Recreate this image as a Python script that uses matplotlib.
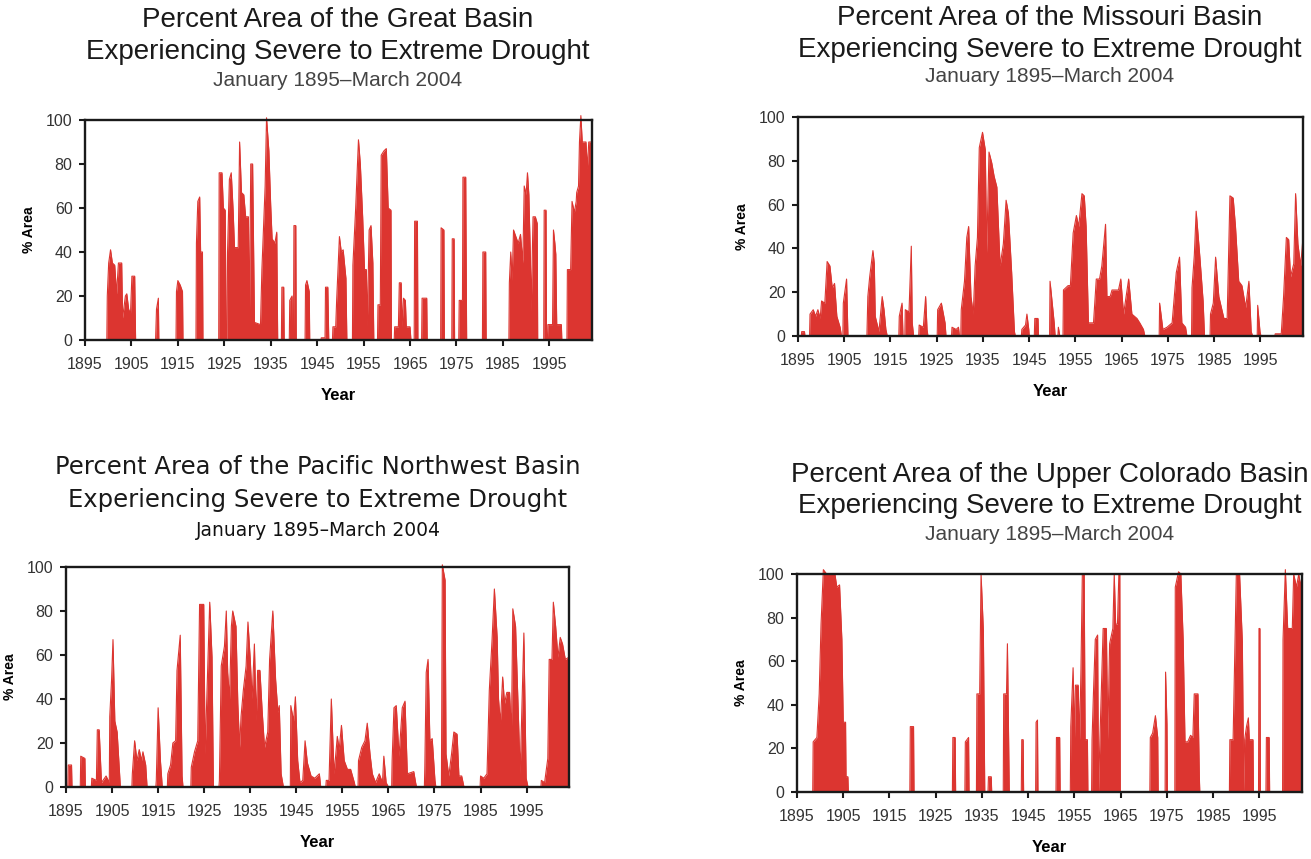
import matplotlib
matplotlib.use("Agg")
import matplotlib.pyplot as plt
import numpy as np

# (year, % area); zero points close each episode
GREAT_BASIN = [
    (1895.0, 0), (1899.7, 0), (1899.8, 20), (1900.1, 35), (1900.5, 41), (1900.9, 35), (1901.4, 34),
    (1901.8, 21), (1902.2, 35), (1902.9, 35), (1903.1, 10), (1903.7, 20), (1904.0, 21), (1904.4, 14),
    (1904.8, 12), (1905.1, 29), (1905.7, 29), (1905.9, 0),
    (1910.2, 0), (1910.4, 14), (1910.8, 19), (1910.9, 0),
    (1914.6, 0), (1914.7, 22), (1915.0, 27), (1915.5, 25), (1916.0, 22), (1916.1, 0),
    (1918.9, 0), (1919.0, 44), (1919.3, 63), (1919.7, 65), (1919.9, 40), (1920.3, 40), (1920.4, 0),
    (1923.8, 0), (1923.9, 76), (1924.5, 76), (1924.8, 60), (1925.2, 59), (1925.4, 0),
    (1925.6, 0), (1925.7, 40), (1926.1, 73), (1926.5, 76), (1926.9, 59), (1927.2, 42), (1928.0, 42),
    (1928.3, 90), (1928.7, 67), (1929.2, 66), (1929.6, 56), (1930.2, 56), (1930.4, 6), (1930.7, 80),
    (1931.1, 80), (1931.5, 8), (1932.8, 7), (1933.1, 32), (1933.8, 70), (1934.1, 101), (1934.6, 86),
    (1935.0, 61), (1935.3, 46), (1935.9, 44), (1936.3, 49), (1936.5, 0),
    (1937.3, 0), (1937.4, 24), (1937.8, 24), (1937.9, 0),
    (1939.0, 0), (1939.1, 18), (1939.6, 20), (1939.7, 0), (1939.9, 0), (1940.0, 52), (1940.4, 52), (1940.5, 0),
    (1942.4, 0), (1942.5, 25), (1942.8, 27), (1943.3, 22), (1943.4, 0),
    (1945.8, 0), (1945.9, 1), (1946.7, 1), (1946.8, 24), (1947.3, 24), (1947.5, 0), (1948.3, 0),
    (1948.4, 6), (1949.0, 6), (1949.2, 18), (1949.8, 47), (1950.2, 40), (1950.6, 41), (1951.2, 28), (1951.4, 0),
    (1952.6, 0), (1952.7, 34), (1953.3, 60), (1953.9, 91), (1954.3, 80), (1954.8, 56), (1955.2, 32),
    (1955.6, 32), (1955.8, 6), (1956.2, 50), (1956.6, 52), (1957.0, 35), (1957.2, 0),
    (1958.0, 0), (1958.1, 16), (1958.6, 16), (1958.8, 84), (1959.4, 86), (1959.9, 87), (1960.3, 60),
    (1960.9, 59), (1961.0, 0),
    (1961.6, 0), (1961.7, 6), (1962.5, 6), (1962.7, 26), (1963.1, 26), (1963.3, 6), (1963.6, 19),
    (1964.0, 18), (1964.2, 6), (1965.0, 6), (1965.2, 0),
    (1965.9, 0), (1966.0, 54), (1966.6, 54), (1966.7, 0),
    (1967.5, 0), (1967.6, 19), (1968.6, 19), (1968.7, 0),
    (1971.6, 0), (1971.7, 51), (1972.3, 50), (1972.4, 0),
    (1974.0, 0), (1974.1, 46), (1974.5, 46), (1974.6, 0),
    (1975.5, 0), (1975.6, 18), (1976.3, 18), (1976.4, 74), (1977.0, 74), (1977.2, 0),
    (1980.6, 0), (1980.7, 40), (1981.3, 40), (1981.4, 0),
    (1986.3, 0), (1986.4, 26), (1986.7, 40), (1987.0, 27), (1987.3, 50), (1987.8, 47), (1988.3, 44),
    (1988.8, 48), (1989.3, 35), (1989.6, 70), (1990.0, 66), (1990.3, 76), (1990.6, 66), (1990.9, 40),
    (1991.1, 13), (1991.5, 56), (1992.0, 56), (1992.4, 53), (1992.5, 0),
    (1993.8, 0), (1993.9, 59), (1994.3, 59), (1994.4, 0),
    (1994.6, 0), (1994.7, 7), (1995.7, 7), (1995.9, 50), (1996.2, 44), (1996.4, 39), (1996.6, 7),
    (1997.6, 7), (1997.7, 0),
    (1998.8, 0), (1998.9, 32), (1999.6, 32), (1999.9, 63), (2000.4, 58), (2000.8, 63), (2000.9, 67),
    (2001.3, 70), (2001.5, 90), (2001.8, 102), (2002.1, 90), (2002.9, 90), (2003.2, 78), (2003.5, 90),
    (2004.2, 90),
]

MISSOURI = [
    (1895.0, 0), (1895.7, 0), (1895.8, 2), (1896.4, 2), (1896.5, 0),
    (1897.5, 0), (1897.6, 10), (1898.3, 12), (1898.8, 9), (1899.3, 12), (1899.8, 8), (1900.1, 16),
    (1900.8, 15), (1901.3, 34), (1901.9, 32), (1902.4, 22), (1902.9, 24), (1903.4, 9), (1904.1, 4), (1904.4, 0),
    (1904.7, 0), (1904.8, 15), (1905.5, 26), (1905.8, 0),
    (1909.9, 0), (1910.1, 18), (1910.5, 27), (1911.2, 39), (1911.5, 33), (1911.7, 9), (1912.5, 2),
    (1913.2, 18), (1913.6, 12), (1914.0, 3), (1914.3, 0),
    (1916.8, 0), (1916.9, 9), (1917.5, 15), (1917.7, 0),
    (1918.1, 0), (1918.2, 12), (1919.0, 11), (1919.5, 41), (1919.7, 6), (1920.0, 0),
    (1921.1, 0), (1921.2, 5), (1922.1, 4), (1922.6, 18), (1922.9, 3), (1923.1, 0),
    (1925.1, 0), (1925.2, 12), (1926.0, 15), (1926.8, 6), (1927.0, 0),
    (1928.2, 0), (1928.3, 4), (1929.2, 3), (1929.7, 4), (1929.9, 0),
    (1930.2, 0), (1930.3, 12), (1931.0, 25), (1931.5, 45), (1931.9, 50), (1932.4, 18), (1932.9, 10),
    (1933.3, 32), (1933.8, 45), (1934.2, 86), (1934.9, 93), (1935.5, 85), (1935.8, 38), (1936.3, 84),
    (1936.9, 79), (1937.4, 73), (1938.0, 68), (1938.7, 32), (1939.4, 42), (1940.0, 62), (1940.5, 56),
    (1941.2, 29), (1941.8, 2), (1942.0, 0),
    (1943.3, 0), (1943.4, 3), (1944.2, 5), (1944.5, 10), (1944.9, 3), (1945.0, 0),
    (1946.1, 0), (1946.2, 8), (1946.9, 8), (1947.0, 0),
    (1949.4, 0), (1949.5, 25), (1950.4, 6), (1950.6, 0), (1951.2, 0), (1951.3, 4), (1951.6, 0),
    (1952.3, 0), (1952.4, 21), (1953.4, 23), (1953.9, 23), (1954.5, 47), (1955.2, 55), (1955.7, 50),
    (1956.4, 65), (1956.9, 64), (1957.3, 50), (1957.8, 6), (1958.2, 6), (1958.9, 6), (1959.5, 26),
    (1960.2, 26), (1960.7, 32), (1961.5, 51), (1961.8, 18), (1962.5, 18), (1962.9, 21), (1964.3, 21),
    (1964.8, 26), (1965.4, 10), (1966.5, 26), (1967.2, 10), (1968.3, 8), (1968.9, 6), (1969.7, 3), (1970.0, 0),
    (1973.1, 0), (1973.2, 15), (1973.9, 3), (1974.8, 4), (1975.9, 6), (1976.8, 29), (1977.5, 36),
    (1978.0, 6), (1978.8, 4), (1979.1, 0),
    (1980.1, 0), (1980.2, 22), (1980.7, 37), (1981.1, 57), (1981.9, 36), (1982.6, 16), (1982.9, 0),
    (1984.1, 0), (1984.2, 10), (1984.8, 15), (1985.3, 36), (1986.0, 18), (1987.1, 8), (1987.8, 8),
    (1988.4, 64), (1989.1, 63), (1989.6, 50), (1990.3, 25), (1991.0, 23), (1991.8, 13), (1992.5, 25),
    (1993.0, 2), (1993.3, 0),
    (1994.3, 0), (1994.4, 14), (1994.9, 2), (1995.1, 0),
    (1998.1, 0), (1998.2, 1), (1999.5, 1), (2000.0, 18), (2000.6, 45), (2001.1, 44), (2001.5, 27),
    (2002.2, 33), (2002.6, 65), (2003.1, 42), (2003.7, 32), (2004.2, 45),
]

PACIFIC_NW = [
    (1895.0, 0), (1895.4, 0), (1895.5, 10), (1896.2, 10), (1896.3, 0),
    (1898.1, 0), (1898.2, 14), (1899.1, 13), (1899.2, 0),
    (1900.5, 0), (1900.6, 4), (1901.6, 3), (1901.8, 26), (1902.2, 26), (1902.7, 2), (1903.7, 5),
    (1904.4, 2), (1904.5, 32), (1904.9, 49), (1905.2, 67), (1905.6, 30), (1906.1, 25), (1906.5, 11), (1906.8, 0),
    (1909.3, 0), (1909.4, 6), (1909.9, 21), (1910.4, 12), (1910.9, 17), (1911.4, 12), (1911.7, 16),
    (1912.3, 10), (1912.6, 0),
    (1914.5, 0), (1914.6, 3), (1915.0, 36), (1915.5, 12), (1915.9, 0),
    (1917.0, 0), (1917.1, 6), (1917.7, 10), (1918.2, 20), (1918.8, 21), (1919.1, 53), (1919.8, 69),
    (1920.2, 5), (1920.4, 0),
    (1922.1, 0), (1922.2, 9), (1922.9, 16), (1923.6, 21), (1924.0, 83), (1924.9, 83), (1925.2, 15),
    (1925.6, 43), (1926.2, 84), (1926.7, 59), (1927.0, 0),
    (1928.2, 0), (1928.3, 3), (1928.7, 55), (1929.4, 64), (1929.8, 80), (1930.1, 52), (1930.5, 40),
    (1930.9, 73), (1931.2, 80), (1931.9, 73), (1932.3, 38), (1932.7, 18), (1933.0, 32), (1933.5, 44),
    (1934.1, 55), (1934.5, 75), (1935.0, 58), (1935.4, 40), (1935.9, 65), (1936.3, 30), (1936.6, 53),
    (1937.1, 53), (1937.6, 34), (1938.1, 18), (1938.8, 25), (1939.2, 58), (1939.9, 80), (1940.5, 49),
    (1941.0, 34), (1941.3, 37), (1941.7, 6), (1942.2, 0),
    (1943.7, 0), (1943.8, 37), (1944.4, 30), (1944.8, 41), (1945.3, 12), (1945.8, 2), (1946.4, 3),
    (1946.9, 21), (1947.4, 11), (1948.2, 5), (1949.0, 4), (1950.0, 6), (1950.3, 0),
    (1951.4, 0), (1951.5, 3), (1952.1, 3), (1952.6, 40), (1953.2, 6), (1953.9, 23), (1954.3, 17),
    (1954.8, 28), (1955.4, 12), (1956.1, 8), (1956.8, 8), (1957.6, 2), (1957.8, 0),
    (1958.4, 0), (1958.5, 12), (1959.2, 18), (1959.9, 21), (1960.4, 29), (1961.0, 15), (1961.5, 6),
    (1962.2, 2), (1963.0, 6), (1963.7, 2), (1964.0, 14), (1964.5, 2), (1965.0, 0),
    (1965.7, 0), (1965.8, 12), (1966.2, 36), (1966.7, 37), (1967.3, 14), (1968.0, 36), (1968.6, 39),
    (1969.1, 6), (1970.5, 7), (1970.9, 2), (1971.1, 0),
    (1972.8, 0), (1972.9, 9), (1973.2, 52), (1973.6, 58), (1974.0, 21), (1974.5, 22), (1975.1, 3), (1975.3, 0),
    (1976.5, 0), (1976.7, 101), (1977.3, 94), (1977.5, 15), (1978.1, 5), (1978.7, 15), (1979.2, 25),
    (1979.9, 24), (1980.3, 5), (1980.9, 5), (1981.4, 0),
    (1984.9, 0), (1985.0, 5), (1985.7, 4), (1986.4, 6), (1986.9, 44), (1987.5, 67), (1988.0, 90),
    (1988.6, 68), (1988.9, 40), (1989.3, 29), (1989.8, 50), (1990.2, 38), (1990.7, 43), (1991.3, 43),
    (1991.7, 24), (1992.0, 81), (1992.6, 73), (1993.1, 40), (1993.6, 6), (1994.4, 70), (1994.9, 4), (1995.3, 0),
    (1998.1, 0), (1998.2, 3), (1998.9, 2), (1999.6, 13), (1999.9, 58), (2000.5, 58), (2000.8, 84),
    (2001.3, 73), (2001.8, 59), (2002.3, 68), (2002.8, 65), (2003.4, 58), (2004.2, 59),
]

UPPER_COLORADO = [
    (1895.0, 0), (1898.4, 0), (1898.5, 23), (1899.3, 25), (1899.8, 45), (1900.2, 77), (1900.7, 102),
    (1901.4, 100), (1903.2, 100), (1903.6, 94), (1904.2, 95), (1904.7, 70), (1905.0, 32), (1905.5, 32),
    (1905.6, 7), (1906.0, 7), (1906.1, 0),
    (1919.4, 0), (1919.5, 30), (1920.2, 30), (1920.3, 0),
    (1928.6, 0), (1928.7, 25), (1929.2, 25), (1929.3, 0),
    (1931.3, 0), (1931.4, 23), (1932.1, 25), (1932.2, 0),
    (1933.8, 0), (1933.9, 45), (1934.5, 45), (1934.8, 100), (1935.3, 74), (1935.6, 0),
    (1936.3, 0), (1936.4, 7), (1937.0, 7), (1937.1, 0),
    (1939.6, 0), (1939.7, 45), (1940.3, 45), (1940.5, 68), (1940.9, 0),
    (1943.5, 0), (1943.6, 24), (1943.9, 24), (1944.0, 0),
    (1946.6, 0), (1946.7, 32), (1947.0, 33), (1947.1, 0),
    (1951.0, 0), (1951.1, 25), (1951.8, 25), (1951.9, 0),
    (1954.1, 0), (1954.2, 30), (1954.7, 57), (1955.0, 24), (1955.2, 49), (1955.8, 49), (1956.1, 24),
    (1956.4, 56), (1956.7, 100), (1957.1, 100), (1957.3, 24), (1957.8, 24), (1957.9, 0),
    (1958.7, 0), (1958.8, 24), (1959.1, 45), (1959.5, 70), (1960.0, 72), (1960.2, 0), (1960.5, 24),
    (1961.2, 75), (1961.9, 75), (1962.2, 24), (1962.6, 68), (1963.3, 75), (1963.6, 100), (1963.9, 77),
    (1964.3, 77), (1964.6, 100), (1964.8, 100), (1964.9, 0),
    (1971.3, 0), (1971.4, 25), (1971.9, 27), (1972.5, 35), (1973.0, 25), (1973.1, 0),
    (1974.6, 0), (1974.7, 55), (1975.0, 31), (1975.1, 0),
    (1976.7, 0), (1976.8, 94), (1977.5, 101), (1978.0, 100), (1978.5, 70), (1978.9, 23), (1979.5, 23),
    (1980.1, 26), (1980.6, 25), (1980.9, 45), (1981.7, 45), (1982.0, 7), (1982.1, 0),
    (1988.5, 0), (1988.6, 24), (1989.3, 24), (1989.6, 56), (1990.0, 100), (1990.7, 100), (1991.3, 69),
    (1991.6, 0), (1991.8, 24), (1992.2, 30), (1992.6, 34), (1992.8, 24), (1993.6, 24), (1993.7, 0),
    (1994.8, 0), (1994.9, 75), (1995.1, 75), (1995.2, 0),
    (1996.4, 0), (1996.5, 25), (1997.1, 25), (1997.2, 0),
    (2000.0, 0), (2000.1, 70), (2000.6, 102), (2001.1, 75), (2001.6, 75), (2002.1, 75), (2002.4, 100),
    (2003.0, 94), (2003.5, 100), (2003.9, 94), (2004.2, 100),
]

BASIN_NAMES = ["Great Basin", "Missouri Basin", "Pacific Northwest Basin", "Upper Colorado Basin"]
SUBTITLE = "January 1895\u2013March 2004"
X_TICKS = list(range(1895, 2000, 10))
Y_TICKS = list(range(0, 101, 20))

RED = "#dc3530"
W, H = 1311, 859

# pixel boxes (left, top, right, bottom) and title centre for each panel
LAYOUT = [
    dict(box=(85, 120, 592, 340), cx=338, ty=(20, 52, 80), font="Liberation Sans", sub_color="#444444"),
    dict(box=(798, 117, 1303, 336), cx=1050, ty=(18, 50, 77), font="Liberation Sans", sub_color="#444444"),
    dict(box=(66, 567, 569, 787), cx=318, ty=(467, 500, 530), font="DejaVu Sans", sub_color="#111111"),
    dict(box=(797, 574, 1302, 792), cx=1050, ty=(475, 506, 535), font="Liberation Sans", sub_color="#444444"),
]


def draw_panel(fig, data, name, lay):
    left, top, right, bottom = lay["box"]
    ax = fig.add_axes([left / W, 1 - bottom / H, (right - left) / W, (bottom - top) / H])
    yrs, pct = np.array(data, dtype=float).T
    poly = ax.fill_between(yrs, pct, 0, color=RED, lw=0, zorder=2)
    poly.set_clip_on(False)
    ax.plot(yrs, pct, color=RED, lw=0.8, zorder=2, clip_on=False)

    ax.set_xlim(1895, 2004.2)
    ax.set_ylim(0, 100)
    ax.set_xticks(X_TICKS)
    ax.set_yticks(Y_TICKS)
    for s in ax.spines.values():
        s.set_linewidth(1.7)
        s.set_color("#1a1a1a")
        s.set_zorder(3)
    ax.tick_params(direction="out", length=4, width=1.5, color="#1a1a1a",
                   labelsize=11.5, labelcolor="#333333")
    ax.tick_params(axis="x", pad=8)
    ax.tick_params(axis="y", pad=5)
    for lab in ax.get_xticklabels() + ax.get_yticklabels():
        lab.set_family("Liberation Sans")

    ax.set_xlabel("Year", fontsize=12, fontweight="bold", family="Liberation Sans", labelpad=12)
    ax.set_ylabel("% Area", fontsize=10, fontweight="bold", family="Liberation Sans", labelpad=7)

    cx = lay["cx"] / W
    t1, t2, t3 = lay["ty"]
    big = 17.5 if lay["font"] == "DejaVu Sans" else 20
    small = 13.5 if lay["font"] == "DejaVu Sans" else 15
    fig.text(cx, 1 - t1 / H, f"Percent Area of the {name}", ha="center", va="center",
             fontsize=big, family=lay["font"], color="#1a1a1a")
    fig.text(cx, 1 - t2 / H, "Experiencing Severe to Extreme Drought", ha="center", va="center",
             fontsize=big, family=lay["font"], color="#1a1a1a")
    fig.text(cx, 1 - t3 / H, SUBTITLE, ha="center", va="center",
             fontsize=small, family=lay["font"], color=lay["sub_color"])
    return ax


def main():
    fig = plt.figure(figsize=(W / 100, H / 100), dpi=100)
    series = [GREAT_BASIN, MISSOURI, PACIFIC_NW, UPPER_COLORADO]
    for data, name, lay in zip(series, BASIN_NAMES, LAYOUT):
        draw_panel(fig, data, name, lay)
    fig.savefig("out.png", dpi=100)


if __name__ == "__main__":
    main()
